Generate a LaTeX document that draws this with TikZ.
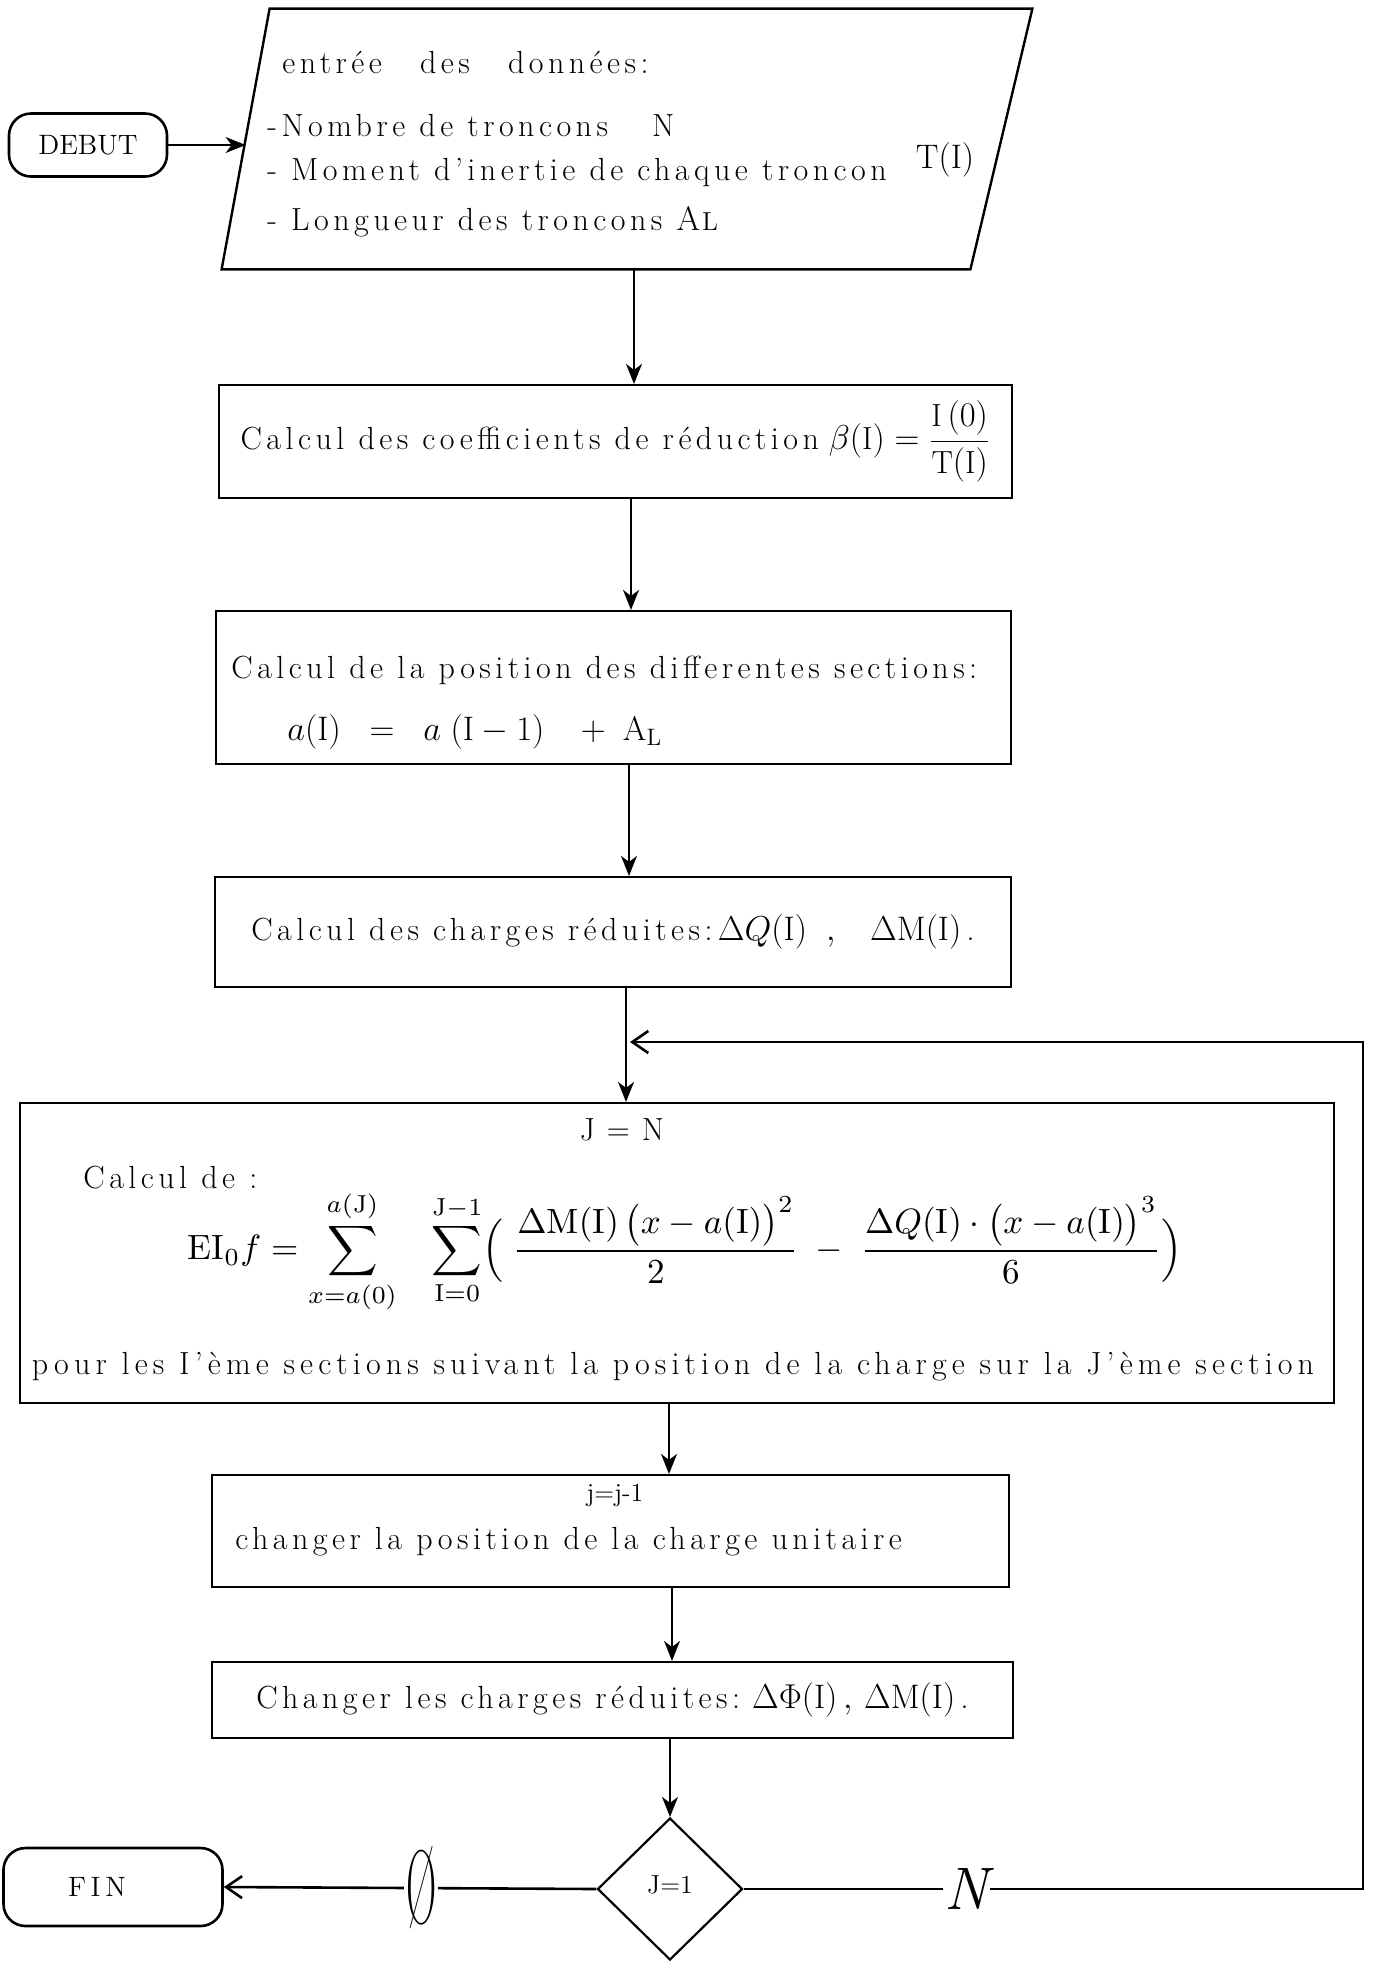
\documentclass[tikz,border=0pt]{standalone}
\usepackage{fontspec}
\setmainfont{Latin Modern Roman}
\usepackage{amsmath}
\usepackage{graphicx}
\usetikzlibrary{shapes.geometric,arrows.meta,calc}
\begin{document}
\tikzset{
  tw/.style={font=\fontsize{16}{19}\selectfont\addfontfeatures{LetterSpace=14}, inner sep=0pt},
  box/.style={draw, rectangle, line width=1.1pt, inner sep=0pt},
  arr/.style={-{Stealth[length=10pt,width=8pt,inset=3pt]}, line width=0.8pt},
  oarr/.style={-{Straight Barb[length=8pt,width=11pt]}, line width=1.3pt},
  term/.style={draw, rectangle, rounded corners=11pt, line width=1.3pt, inner sep=0pt},
  cut/.style={fill=white, inner sep=1pt},
  hm/.style={inner sep=0pt, font=\fontsize{17}{20}\selectfont}
}
\begin{tikzpicture}[x=0.5pt,y=-0.5pt]
\useasboundingbox (0,0) rectangle (1374,1967);

% start terminal
\node[term, minimum width=79pt, minimum height=31.5pt, font=\fontsize{14}{16}\selectfont] (debut) at (88,145) {DEBUT};

% input parallelogram
\node[rectangle, minimum width=405pt, minimum height=130pt, inner sep=0pt] (in) at (627,139) {};
\coordinate (pTL) at ([xshift=24pt]in.north west);
\coordinate (pTR) at (in.north east);
\coordinate (pBR) at ([xshift=-31pt]in.south east);
\coordinate (pBL) at (in.south west);
\draw[line width=1.2pt] (pTL) -- (pTR) -- (pBR) -- (pBL) -- cycle;
\coordinate (pML) at ($(pTL)!0.5!(pBL)$);

\node[tw, anchor=west] (t1) at (282,62) {entrée\hspace{12pt} des\hspace{12pt} données:};
\node[tw, anchor=west] (t2) at (267,126) {-Nombre de troncons\hspace{22pt}N};
\node[tw, anchor=west] (t3) at (267,173) {- Moment d'inertie de chaque troncon};
\node[hm, anchor=center] (t3b) at (945,160) {$\mathrm{T}(\mathrm{I})$};
\node[tw, anchor=west] (t4) at (267,222) {- Longueur des troncons {\fontsize{17}{18}\selectfont A\kern1pt{\fontsize{13}{14}\selectfont L}}};

\draw[arr] (debut.east) -- (debut.east -| pML);

% process boxes
\node[box, tw, minimum width=396.5pt, minimum height=56.5pt] (b2) at (615.5,441.5)
  {Calcul des coefficients de réduction\hspace{5pt}{\fontsize{16}{18}\selectfont$\displaystyle \beta(\mathrm{I}) = \frac{\mathrm{I}\,(0)}{\mathrm{T}(\mathrm{I})}$}};

\node[box, minimum width=397.5pt, minimum height=76.5pt] (b3) at (613.5,687.5) {};
\node[tw, anchor=west] (l3a) at (231,670) {Calcul de la position des differentes sections:};
\node[hm, anchor=west] (l3b) at (287,732) {$a(\mathrm{I}) \;\;=\;\; a\;(\mathrm{I}-1) \;\;\;+\; \mathrm{A}_{\mathrm{L}}$};

\node[box, tw, minimum width=398pt, minimum height=55pt] (b4) at (613,932)
  {Calcul des charges réduites:\,{\fontsize{17}{20}\selectfont$\Delta Q(\mathrm{I})\;\;,\;\;\;\Delta \mathrm{M}(\mathrm{I})$}\,.};

\node[box, minimum width=657pt, minimum height=150pt] (b5) at (677,1253) {};
\node[tw] (jn) at (622,1130) {J\hspace{6pt}=\hspace{6pt}N};
\node[tw, anchor=west] (cd) at (83,1178) {Calcul de :};
\node[inner sep=0pt] (ef) at (685,1252) {\resizebox{497pt}{!}{$\displaystyle
  \mathrm{EI}_{0} f = \sum_{x=a(0)}^{a(\mathrm{J})}\;\;\; \sum_{\mathrm{I}=0}^{\mathrm{J}-1} \Bigl(\;
  \frac{\Delta\mathrm{M}(\mathrm{I})\,\bigl(x-a(\mathrm{I})\bigr)^{2}}{2} \;-\;
  \frac{\Delta Q(\mathrm{I})\cdot\bigl(x-a(\mathrm{I})\bigr)^{3}}{6} \Bigr)$}};
\node[tw, font=\fontsize{16}{19}\selectfont\addfontfeatures{LetterSpace=16}] (pr) at (673,1367) {pour les I'ème sections suivant la position de la charge sur la J'ème section};

\node[box, minimum width=398.5pt, minimum height=56pt] (b6) at (610.5,1531) {};
\node[tw, font=\fontsize{13}{15}\selectfont] (jj) at (615,1495) {j=j-1};
\node[tw, anchor=west] (cp) at (235,1542) {changer la position de la charge unitaire};

\node[box, tw, minimum width=400.5pt, minimum height=38pt] (b7) at (612.5,1700)
  {Changer les charges réduites:\hspace{6pt}{\fontsize{17}{20}\selectfont$\Delta\Phi(\mathrm{I})\,,\,\Delta\mathrm{M}(\mathrm{I})$}\,.};

% decision
\node[draw, diamond, line width=1.1pt, minimum width=72.5pt, minimum height=71pt, inner sep=0pt, font=\fontsize{13}{15}\selectfont] (dec) at (670,1889) {\raisebox{4pt}{J=1}};

% end terminal
\node[term, minimum width=109.5pt, minimum height=39pt, font=\fontsize{14}{16}\selectfont] (fin) at (113,1887) {\hspace*{-16pt}F\,I\,N};

% connectors
\draw[arr] ([xshift=3.5pt]in.south) -- ([xshift=9.25pt]b2.north);
\draw[arr] ([xshift=7.75pt]b2.south) -- ([xshift=8.75pt]b3.north);
\draw[arr] ([xshift=7.75pt]b3.south) -- ([xshift=8pt]b4.north);
\draw[arr] ([xshift=6.5pt]b4.south) -- ([xshift=-25.5pt]b5.north);
\draw[arr] ([xshift=-4pt]b5.south) -- ([xshift=29.25pt]b6.north);
\draw[arr] ([xshift=30.75pt]b6.south) -- ([xshift=29.75pt]b7.north);
\draw[arr] ([xshift=28.75pt]b7.south) -- (dec.north);

\draw[oarr] (dec.west) -- node[cut, pos=0.47] {\scalebox{0.42}[1.05]{\fontsize{50}{50}\selectfont Ø}} (fin.east);

\coordinate (cr1) at (1363,1889);
\coordinate (cr2) at (1363,1042);
\coordinate (jnc) at (630,1042);
\draw[oarr] (dec.east) -- node[cut, pos=0.36] {\fontsize{30}{30}\selectfont\itshape N} (cr1) -- (cr2) -- (jnc);
\end{tikzpicture}
\end{document}
